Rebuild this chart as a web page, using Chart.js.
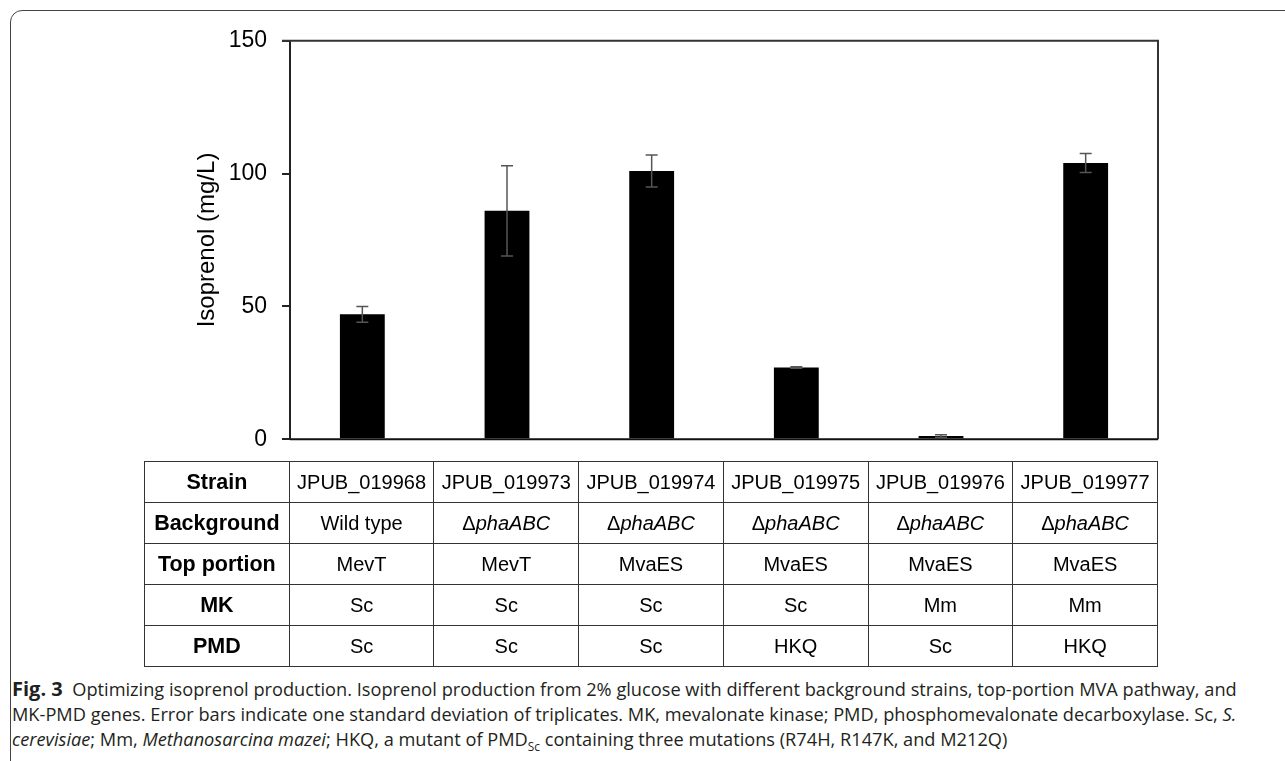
<!DOCTYPE html>
<html>
<head>
<meta charset="utf-8">
<script src="https://cdn.jsdelivr.net/npm/chart.js@4"></script>
<style>
  html, body { margin: 0; padding: 0; background: #fff; }
  body { width: 1285px; height: 761px; position: relative; overflow: hidden; }
  #frame {
    position: absolute; left: 10px; top: 10px; width: 1400px; height: 900px;
    border: 1.5px solid #444; border-top-left-radius: 12px; box-sizing: border-box;
  }
  #chartView { position: absolute; left: 140px; top: 12px; }
  #info {
    position: absolute; left: 144px; top: 461px; width: 1014px;
    border-collapse: collapse; table-layout: fixed;
    font-family: "Liberation Sans", Arial, sans-serif; color: #000;
  }
  #info td {
    border: 1px solid #333; height: 40px; padding: 0; text-align: center;
    font-size: 20px; white-space: nowrap;
  }
  #info td.head { font-weight: bold; font-size: 21.5px; }
  #caption {
    position: absolute; left: 12px; top: 676px; width: 1260px;
    font-family: "Open Sans", "Noto Sans", sans-serif; font-size: 15px;
    line-height: 25px; color: #231f20; white-space: nowrap;
  }
  #caption b { font-weight: bold; font-size: 1.1em; }
</style>
</head>
<body>
<div id="frame"></div>
<canvas id="chartView" width="1040" height="456"></canvas>
<table id="info"></table>
<div id="caption">
  <span id="capLine1"><b>Fig. 3</b>&nbsp; Optimizing isoprenol production. Isoprenol production from 2% glucose with different background strains, top-portion MVA pathway, and</span><br>
  MK-PMD genes. Error bars indicate one standard deviation of triplicates. MK, mevalonate kinase; PMD, phosphomevalonate decarboxylase. Sc, <i>S.</i><br>
  <i>cerevisiae</i>; Mm, <i>Methanosarcina mazei</i>; HKQ, a mutant of PMD<sub style="font-size:0.65em">Sc</sub> containing three mutations (R74H, R147K, and M212Q)
</div>
<script>
var strains = ['JPUB_019968', 'JPUB_019973', 'JPUB_019974', 'JPUB_019975', 'JPUB_019976', 'JPUB_019977'];
var backgrounds = ['Wild type', 'ΔphaABC', 'ΔphaABC', 'ΔphaABC', 'ΔphaABC', 'ΔphaABC'];
var topPortions = ['MevT', 'MevT', 'MvaES', 'MvaES', 'MvaES', 'MvaES'];
var mkGenes = ['Sc', 'Sc', 'Sc', 'Sc', 'Mm', 'Mm'];
var pmdGenes = ['Sc', 'Sc', 'Sc', 'HKQ', 'Sc', 'HKQ'];
var isoprenol = [47, 86, 101, 27, 1.2, 104];
var isoprenolSd = [3, 17, 6, 0.3, 0.5, 3.6];
var yTicks = [0, 50, 100, 150];

// table under the chart
function fillTable(){
    var rows = [
        ['Strain', strains],
        ['Background', backgrounds],
        ['Top portion', topPortions],
        ['MK', mkGenes],
        ['PMD', pmdGenes]
    ];
    var table = document.getElementById('info');
    rows.forEach(row => {
        var tr = document.createElement('tr');
        var th = document.createElement('td');
        th.className = 'head';
        th.textContent = row[0];
        tr.appendChild(th);
        row[1].forEach(val => {
            var td = document.createElement('td');
            if (val.charAt(0) == 'Δ') {
                td.innerHTML = 'Δ<i>' + val.slice(1) + '</i>';
            } else {
                td.textContent = val;
            }
            tr.appendChild(td);
        });
        table.appendChild(tr);
    });
}

// caption font size so the first line fills the width like the original
function fitCaption(){
    var cap = document.getElementById('caption');
    var line1 = document.getElementById('capLine1');
    var w = line1.getBoundingClientRect().width;
    cap.style.fontSize = (15 * 1226 / w).toFixed(2) + 'px';
}

// error bars, drawn from the data through the y scale
var errorBars = {
    id: 'errorBars',
    afterDatasetsDraw(chart) {
        var ctx = chart.ctx;
        var y = chart.scales.y;
        var meta = chart.getDatasetMeta(0);
        ctx.save();
        ctx.strokeStyle = '#555';
        ctx.lineWidth = 1.5;
        meta.data.forEach((bar, i) => {
            var top = y.getPixelForValue(isoprenol[i] + isoprenolSd[i]);
            var bot = y.getPixelForValue(isoprenol[i] - isoprenolSd[i]);
            ctx.beginPath();
            ctx.moveTo(bar.x, top); ctx.lineTo(bar.x, bot);
            ctx.moveTo(bar.x - 6, top); ctx.lineTo(bar.x + 6, top);
            ctx.moveTo(bar.x - 6, bot); ctx.lineTo(bar.x + 6, bot);
            ctx.stroke();
        });
        ctx.restore();
    }
};

// box round the plot area
var plotFrame = {
    id: 'plotFrame',
    afterDraw(chart) {
        var a = chart.chartArea;
        var ctx = chart.ctx;
        ctx.save();
        ctx.strokeStyle = '#333';
        ctx.lineWidth = 2;
        ctx.beginPath();
        ctx.moveTo(a.left - 8, a.top);
        ctx.lineTo(a.right, a.top);
        ctx.lineTo(a.right, a.bottom);
        ctx.stroke();
        ctx.strokeStyle = '#111';
        ctx.beginPath();
        ctx.moveTo(a.left, a.bottom);
        ctx.lineTo(a.right, a.bottom);
        ctx.stroke();
        ctx.restore();
    }
};

function drawChart(){
    var ctx = document.getElementById('chartView').getContext('2d');
    new Chart(ctx, {
        type: 'bar',
        data: {
            labels: strains,
            datasets: [{
                label: 'Isoprenol (mg/L)',
                backgroundColor: '#000',
                borderWidth: 0,
                data: isoprenol,
                barPercentage: 0.31,
                categoryPercentage: 1
            }]
        },
        options: {
            responsive: false,
            animation: false,
            layout: { padding: { left: 0, top: 11, right: 22, bottom: 14 } },
            plugins: { legend: { display: false }, tooltip: { enabled: false } },
            scales: {
                x: { display: false },
                y: {
                    min: 0, max: 150,
                    afterBuildTicks: s => { s.ticks = yTicks.map(v => ({ value: v })); },
                    afterFit: s => { s.width = 150; },
                    border: { color: '#222', width: 2 },
                    grid: { drawOnChartArea: false, tickLength: 8, color: '#222', lineWidth: 2 },
                    ticks: {
                        padding: 15, color: '#000',
                        font: { family: '"Liberation Sans", Arial, sans-serif', size: 23 }
                    },
                    title: {
                        display: true, text: 'Isoprenol (mg/L)', color: '#000',
                        padding: { top: 53, bottom: 0 },
                        font: { family: '"Liberation Sans", Arial, sans-serif', size: 24 }
                    }
                }
            }
        },
        plugins: [errorBars, plotFrame]
    });
}

fillTable();
fitCaption();
drawChart();
</script>
</body>
</html>
